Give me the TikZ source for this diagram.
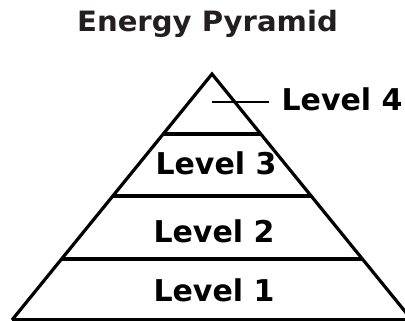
\documentclass[tikz,border=0pt]{standalone}
\usepackage{fontspec}
\setmainfont{DejaVu Sans}
\definecolor{titlegray}{HTML}{231F20}
\begin{document}
\begin{tikzpicture}[x=1pt,y=-1pt,line width=3.2pt,
  lvl/.style={font=\bfseries\fontsize{30}{36}\selectfont,anchor=base,inner sep=0pt},
  ttl/.style={font=\bfseries\fontsize{28}{32}\selectfont,anchor=base,inner sep=0pt,text=titlegray}]
\useasboundingbox (0,0) rectangle (405,321);
\clip (0,0) rectangle (405,321);
% outline
\coordinate (apex) at (212,74);
\coordinate (bl) at (12,320);
\coordinate (br) at (412,320);
\draw (bl) -- (apex) -- (br);
\draw (bl) -- (br);
% dividers
\coordinate (d4l) at (163.2,134);
\coordinate (d4r) at (260.8,134);
\coordinate (d3l) at (112.8,196);
\coordinate (d3r) at (311.2,196);
\coordinate (d2l) at (61.6,259);
\coordinate (d2r) at (362.4,259);
\draw (d4l) -- (d4r);
\draw (d3l) -- (d3r);
\draw (d2l) -- (d2r);
% title
\node[ttl] (title) at (207.5,32) {\scalebox{1.04}[1]{Energy Pyramid}};
% level labels
\node[lvl] (l3) at (216,175) {Level 3};
\node[lvl] (l2) at (214,242) {Level 2};
\node[lvl] (l1) at (214,301) {Level 1};
\node[lvl,anchor=base west] (l4) at (280,111) {Level 4};
\coordinate (lead) at (212,102);
\draw[line width=2.8pt] (lead) -- ([xshift=-11pt]l4.west |- lead);
\end{tikzpicture}
\end{document}
